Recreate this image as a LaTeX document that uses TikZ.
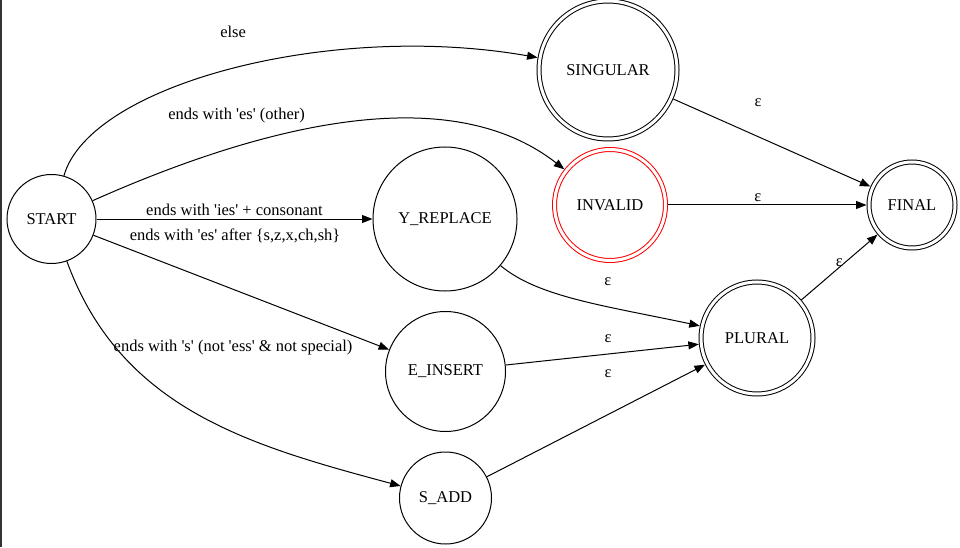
\documentclass[tikz,border=0pt]{standalone}
\usepackage{fontspec}
\setmainfont{Liberation Serif}
\usetikzlibrary{automata, positioning, arrows.meta}
\newcommand{\sq}{\textquotesingle}

\begin{document}
\begin{tikzpicture}[x=1pt, y=1pt, line width=1pt, >={Triangle[length=10.5pt,width=8pt]}, font=\fontsize{16.5}{19}\selectfont]
			\tikzstyle{every state}=[draw=black, inner sep=0pt]
			\tikzstyle{endstate}=[accepting, double distance=3pt, outer sep=2.5pt]
			
			\useasboundingbox (0,0) rectangle (960,547);
			\fill[black!80] (0,0) rectangle (2,547);
			
			\node[state, minimum size=89pt]            (q_start) at (51.5,328) {START};
			\node[state, minimum size=144pt]           (q_yrep)  at (445,328)  {Y\_REPLACE};
			\node[state, minimum size=120pt]           (q_eins)  at (445.5,175.5) {E\_INSERT};
			\node[state, minimum size=92pt]            (q_sadd)  at (445.5,49) {S\_ADD};
			\node[state, endstate, minimum size=138pt] (q_sing)  at (608,477)  {SINGULAR};
			\node[state, endstate, minimum size=111pt, draw=red] (q_inv) at (610,342) {INVALID};
			\node[state, endstate, minimum size=112pt] (q_plur)  at (757,209)  {PLURAL};
			\node[state, endstate, minimum size=86pt]  (q_fin)   at (912,342)  {FINAL};
			
			\path[->]
			(q_start) edge [out=74, in=170, out looseness=0.5, in looseness=1.1]
			          node [pos=0.5, yshift=37pt] {else} (q_sing)
			          edge [out=24, in=142, in looseness=0.8]
			          node [pos=0.28, yshift=31pt] {ends with \sq es\sq{} (other)} (q_inv)
			          edge node [above] {ends with \sq ies\sq{} + consonant} (q_yrep)
			          edge node [pos=0.479, yshift=54pt] {ends with \sq es\sq{} after \{s,z,x,ch,sh\}} (q_eins)
			          edge [out=-70, in=165]
			          node [pos=0.25, anchor=west, xshift=-10.5pt, yshift=5pt] {ends with \sq s\sq{} (not \sq ess\sq{} \& not special)} (q_sadd)
			(q_yrep)  edge [out=-40, in=168, out looseness=0.6, in looseness=1.2]
			          node [pos=0.64, yshift=25pt] {ε} (q_plur)
			(q_eins)  edge node [pos=0.53, yshift=15pt] {ε} (q_plur)
			(q_sadd)  edge node [pos=0.556, yshift=41pt] {ε} (q_plur)
			(q_sing)  edge node [pos=0.43, yshift=34pt] {ε} (q_fin)
			(q_inv)   edge node [pos=0.453, above] {ε} (q_fin)
			(q_plur)  edge node [pos=0.5, yshift=5pt] {ε} (q_fin);
		\end{tikzpicture}
\end{document}
